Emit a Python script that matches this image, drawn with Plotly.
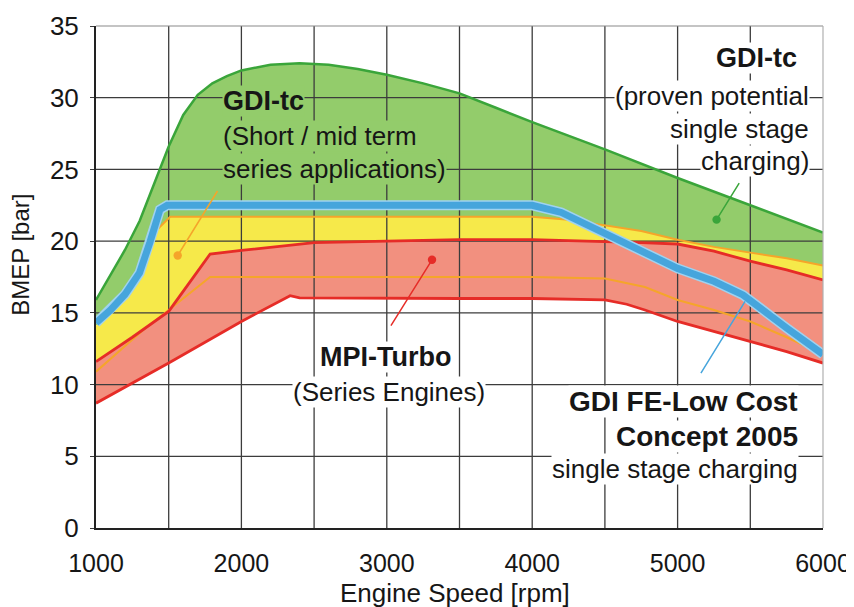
import plotly.graph_objects as go

# ---------------- data ----------------
rpm_ticks = [1000, 2000, 3000, 4000, 5000, 6000]
bmep_ticks = [0, 5, 10, 15, 20, 25, 30, 35]
x_grid = [1500, 2000, 2500, 3000, 3500, 4000, 4500, 5000, 5500]
y_grid = [5, 10, 15, 20, 25, 30]

# GDI-tc proven potential (upper envelope)
green_x = [1000, 1100, 1200, 1300, 1400, 1500, 1600, 1700, 1800, 1900, 2000, 2200, 2400,
           2600, 2800, 3000, 3250, 3500, 3750, 4000, 4500, 4750, 5000, 5500, 6000]
green_y = [15.9, 17.6, 19.4, 21.4, 24.0, 26.6, 28.8, 30.2, 31.0, 31.5, 31.9, 32.3, 32.4,
           32.3, 32.0, 31.6, 31.0, 30.3, 29.3, 28.3, 26.4, 25.4, 24.4, 22.5, 20.6]

# GDI-tc short / mid term (upper boundary, orange)
yellow_x = [1000, 1100, 1200, 1300, 1370, 1430, 1510, 2000, 3000, 4000, 4250, 4500,
            4750, 5000, 5250, 5500, 5750, 6000]
yellow_y = [14.1, 15.0, 16.1, 17.6, 19.6, 20.9, 21.7, 21.7, 21.7, 21.7, 21.5, 21.1,
            20.7, 20.1, 19.6, 19.2, 18.8, 18.3]

# MPI-Turbo upper boundary (red)
red_up_x = [1000, 1250, 1500, 1650, 1785, 2000, 2250, 2500, 3000, 3500, 4000, 4500,
            4750, 5000, 5250, 5500, 5750, 6000]
red_up_y = [11.6, 13.3, 15.1, 17.2, 19.1, 19.35, 19.65, 19.9, 20.0, 20.1, 20.1, 20.0,
            19.9, 19.8, 19.3, 18.6, 18.0, 17.3]

# MPI-Turbo lower boundary (red)
red_lo_x = [1000, 1500, 2000, 2200, 2335, 2400, 3000, 3500, 4000, 4500, 4650, 4775,
            5000, 5250, 5500, 5750, 6000]
red_lo_y = [8.7, 11.5, 14.4, 15.5, 16.2, 16.05, 16.0, 16.0, 16.0, 15.9, 15.6, 15.2,
            14.4, 13.7, 13.0, 12.3, 11.5]

# GDI-tc short / mid term lower boundary (orange)
or_lo_x = [1000, 1325, 1500, 1785, 2000, 3000, 4000, 4500, 4650, 4775, 5000, 5250,
           5500, 5750, 6000]
or_lo_y = [10.9, 13.8, 15.2, 17.5, 17.5, 17.5, 17.5, 17.4, 17.1, 16.8, 15.9, 15.2,
           14.4, 13.3, 12.1]

# GDI FE-Low Cost Concept 2005
blue_x = [1000, 1100, 1200, 1300, 1370, 1440, 1490, 1550, 2000, 3000, 4000, 4200,
          4500, 4800, 5000, 5250, 5450, 5750, 6000]
blue_y = [14.3, 15.2, 16.3, 17.8, 19.9, 22.2, 22.5, 22.5, 22.5, 22.5, 22.5, 22.0,
          20.5, 19.1, 18.1, 17.2, 16.25, 13.95, 12.1]

# ---------------- styling ----------------
FONT = "Liberation Sans, Arial, sans-serif"
GREEN_FILL = "#93cc6b"
GREEN_LINE = "#3aa53a"
YELLOW_FILL = "#f6e94a"
ORANGE = "#f5a52a"
SALMON = "#f2907f"
RED = "#e62c27"
BLUE = "#46a5dc"
BLUE_HALO = "#9fd2f0"
GRID = "#3c3c3c"
INK = "#161616"

fig = go.Figure()


def poly(ux, uy, lx, ly, color):
    fig.add_trace(go.Scatter(x=list(ux) + list(lx)[::-1], y=list(uy) + list(ly)[::-1],
                             fill="toself", fillcolor=color, mode="none",
                             hoverinfo="skip", showlegend=False))


poly(green_x, green_y, yellow_x, yellow_y, GREEN_FILL)
poly(yellow_x, yellow_y, red_up_x, red_up_y, YELLOW_FILL)
poly(red_up_x, red_up_y, red_lo_x, red_lo_y, SALMON)

# grid lines drawn above the fills, below the curves
gx, gy = [], []
for v in x_grid:
    gx += [v, v, None]
    gy += [bmep_ticks[0], bmep_ticks[-1], None]
for v in y_grid:
    gx += [rpm_ticks[0], rpm_ticks[-1], None]
    gy += [v, v, None]
fig.add_trace(go.Scatter(x=gx, y=gy, mode="lines", line=dict(color=GRID, width=1.3),
                         hoverinfo="skip", showlegend=False))


def line(x, y, color, width):
    fig.add_trace(go.Scatter(x=x, y=y, mode="lines", line=dict(color=color, width=width),
                             hoverinfo="skip", showlegend=False))


line(green_x, green_y, GREEN_LINE, 2.5)
i0 = next(i for i, v in enumerate(yellow_x) if v >= 1430)
line(yellow_x[i0:], yellow_y[i0:], ORANGE, 2)
line(or_lo_x, or_lo_y, ORANGE, 2)
line(red_up_x, red_up_y, RED, 2.8)
line(red_lo_x, red_lo_y, RED, 2.8)
line(blue_x, blue_y, BLUE_HALO, 10)
line(blue_x, blue_y, BLUE, 7)

# ---------------- annotations ----------------
anns = []


def txt(text, x, y, xanchor, size, bg, bold=False):
    anns.append(dict(text=("<b>%s</b>" % text) if bold else text, x=x, y=y,
                     xref="x", yref="y", xanchor=xanchor, yanchor="middle",
                     showarrow=False, bgcolor=bg, borderpad=0,
                     font=dict(family=FONT, size=size, color=INK)))


def pointer(x, y, ax, ay, color, head=6):
    anns.append(dict(text="", x=x, y=y, ax=ax, ay=ay, xref="x", yref="y",
                     axref="x", ayref="y", showarrow=True, arrowhead=head,
                     arrowsize=1.4, arrowwidth=1.5, arrowcolor=color, standoff=0))


# GDI-tc short / mid term
txt("GDI-tc", 1867, 29.8, "left", 27, GREEN_FILL, bold=True)
txt("(Short / mid term", 1867, 27.3, "left", 26, GREEN_FILL)
txt("series applications)", 1867, 25.0, "left", 26, GREEN_FILL)
pointer(1562, 19.0, 1842, 23.6, ORANGE)

# GDI-tc proven potential
txt("GDI-tc", 5828, 32.75, "right", 27, "white", bold=True)
txt("(proven potential", 5911, 30.1, "right", 26, "white")
txt("single stage", 5911, 27.8, "right", 26, "white")
txt("charging)", 5911, 25.6, "right", 26, "white")
pointer(5268, 21.5, 5430, 24.15, GREEN_LINE)

# MPI-Turbo
txt("MPI-Turbo", 2988, 11.9, "center", 27, "white", bold=True)
txt("(Series Engines)", 3015, 9.45, "center", 26, "white")
pointer(3311, 18.7, 3022, 14.0, RED)

# GDI FE-Low Cost
txt("GDI FE-Low Cost", 5835, 8.85, "right", 28, "white", bold=True)
txt("Concept 2005", 5835, 6.35, "right", 28, "white", bold=True)
txt("single stage charging", 5835, 4.1, "right", 26, "white")
pointer(5464, 15.8, 5154, 10.7, BLUE, head=0)

# axis titles
anns.append(dict(text="BMEP [bar]", x=-0.104, y=0.545, xref="paper", yref="paper",
                 textangle=-90, showarrow=False, xanchor="center", yanchor="middle",
                 font=dict(family=FONT, size=24, color=INK)))
anns.append(dict(text="Engine Speed [rpm]", x=0.494, y=-0.13, xref="paper", yref="paper",
                 showarrow=False, xanchor="center", yanchor="middle",
                 font=dict(family=FONT, size=26, color=INK)))
fig.update_layout(annotations=anns)

# the page body adds an 8 px offset, so the figure is 8 px smaller on each axis
fig.update_layout(
    width=846, height=599,
    margin=dict(l=88, r=31, t=18, b=79),
    paper_bgcolor="white", plot_bgcolor="white",
    showlegend=False,
    xaxis=dict(range=[rpm_ticks[0], rpm_ticks[-1]], tickvals=rpm_ticks, showgrid=False,
               zeroline=False, showline=True, linecolor="#222", linewidth=2,
               ticks="", ticklabelstandoff=12, automargin=False,
               tickfont=dict(family=FONT, size=25, color=INK)),
    yaxis=dict(range=[bmep_ticks[0], bmep_ticks[-1]], tickvals=bmep_ticks, showgrid=False,
               zeroline=False, showline=True, linecolor="#222", linewidth=2,
               ticks="outside", ticklen=4, tickcolor=GRID, ticklabelstandoff=6,
               automargin=False,
               tickfont=dict(family=FONT, size=26, color=INK)),
    shapes=[
        dict(type="line", xref="paper", yref="paper", x0=0, x1=1, y0=1, y1=1,
             line=dict(color="#8a8a8a", width=1.2)),
        dict(type="line", xref="paper", yref="paper", x0=1, x1=1, y0=0, y1=1,
             line=dict(color="#b0b0b0", width=1.2)),
    ],
)

fig.write_html("out.html")
